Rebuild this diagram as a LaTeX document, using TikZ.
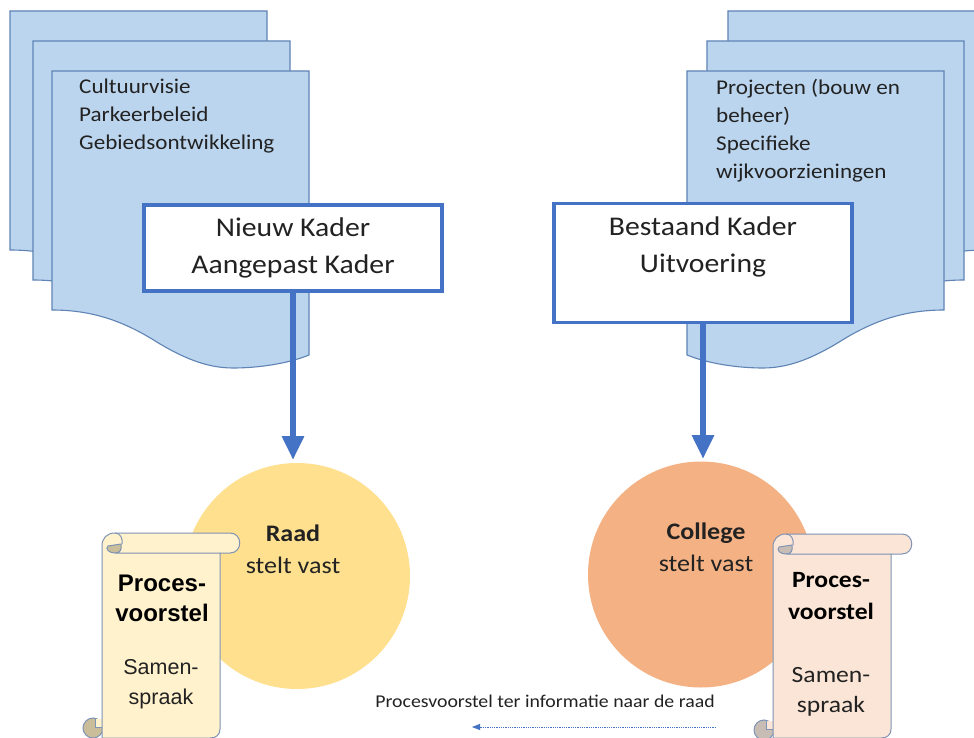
\documentclass[tikz,border=0pt]{standalone}
\usepackage{fontspec}
\usetikzlibrary{arrows.meta}
\setmainfont[FakeStretch=1.1]{Carlito}
\newfontfamily\arialf{Liberation Sans}
\definecolor{docfill}{HTML}{BBD5EE}
\definecolor{docline}{HTML}{5F84B4}
\definecolor{kader}{HTML}{4472C4}
\definecolor{raad}{HTML}{FFE08F}
\definecolor{coll}{HTML}{F4B183}
\definecolor{scrollA}{HTML}{FFF2CC}
\definecolor{scrollB}{HTML}{FBE5D6}
\definecolor{scrollline}{HTML}{7F93B5}
\definecolor{curlA}{HTML}{C9BD9A}
\definecolor{curlB}{HTML}{C8BDB5}
\definecolor{txt}{HTML}{222222}
\newcommand{\wavedoc}[1]{%
  \draw[docsheet,#1] (0,0) -- (257,0) -- (257,284)
    .. controls (235,293) and (205,297) .. (181,297)
    .. controls (155,297) and (130,287) .. (100,268)
    .. controls (70,250) and (40,239) .. (0,239) -- cycle;}
\tikzset{
  x=1pt,y=-1pt,
  docsheet/.style={draw=docline,fill=docfill,line width=1.1pt},
  kaderbox/.style={draw=kader,fill=white,line width=3.2pt,inner sep=0pt,text=txt,font=\fontsize{27}{37}\selectfont,align=center},
  doctext/.style={anchor=base west,inner sep=0pt,text=txt,font=\fontsize{21}{28}\selectfont,align=left},
  thickarrow/.style={draw=kader,line width=6.8pt,-{Triangle[length=24pt,width=21pt]}},
  circ/.style={circle,inner sep=0pt,minimum size=226pt},
  circtext/.style={inner sep=0pt,text=txt,align=center,font=\fontsize{23.7}{32}\selectfont},
  scrollsheet/.style={draw=scrollline,line width=1pt},
  scrolltext/.style={inner sep=0pt,text=black,align=center},
}
\begin{document}
\begin{tikzpicture}
\useasboundingbox (0,0) rectangle (974,738);
\fill[white] (0,0) rectangle (974,738);
\clip (0,0) rectangle (974,738);
% left documents
\begin{scope}[shift={(10,11)}]\wavedoc{}\end{scope}
\begin{scope}[shift={(33,41)}]\wavedoc{}\end{scope}
\begin{scope}[shift={(52,71)}]\wavedoc{}\end{scope}
\node[doctext] (ltxt) at (79,150) {Cultuurvisie\\Parkeerbeleid\\Gebiedsontwikkeling};
% right documents
\begin{scope}[shift={(985,11)},xscale=-1]\wavedoc{}\end{scope}
\begin{scope}[shift={(964,41)},xscale=-1]\wavedoc{}\end{scope}
\begin{scope}[shift={(944,71)},xscale=-1]\wavedoc{}\end{scope}
\node[doctext] (rtxt) at (716,178.5) {Projecten (bouw en\\beheer)\\Specifieke\\wijkvoorzieningen};
% circles
\node[circ,fill=raad] (raadc) at (297,576) {};
\node[circ,fill=coll] (collc) at (701,574.5) {};
\node[circtext] (raadt) at (293,549) {\textbf{Raad}\\stelt vast};
\node[circtext] (collt) at (706,547) {\textbf{College}\\stelt vast};
% kader boxes
\node[kaderbox,minimum width=298pt,minimum height=86pt,text depth=4pt] (nk) at (293,248) {Nieuw Kader\\Aangepast Kader};
\node[kaderbox,minimum width=298pt,minimum height=119pt] (bk) at (703,263) {Bestaand Kader\\Uitvoering\\\mbox{}};
% arrows
\coordinate (nkend) at (nk.south |- 0,460);
\coordinate (bkend) at (bk.south |- 0,459);
\draw[thickarrow] (nk.south) -- (nkend);
\draw[thickarrow] (bk.south) -- (bkend);
% left scroll
\draw[scrollsheet,fill=curlA] (93,728) circle[radius=10];
\fill[scrollA] (95,719) rectangle (103,727);
\draw[scrollsheet] (95,718.5) -- (95,727) -- (103,727);
\draw[scrollsheet,fill=scrollA] (102,546) .. controls (102,538) and (107,533) .. (115,533) -- (230,533)
  .. controls (243,533) and (243,553) .. (230,553) -- (220,553) -- (220,729) .. controls (220,735) and (216,738) .. (210,738) -- (102,738) -- cycle;
\draw[scrollsheet,fill=curlA] (115,553) -- (220,553) (115,553) .. controls (109,553) and (105,549) .. (108,546) -- (121,544) .. controls (122,550) and (120,553) .. (115,553);
\draw[scrollsheet] (115,533) .. controls (120,533) and (123,538) .. (122,544);
\node[scrolltext,font=\arialf\bfseries\fontsize{24}{30}\selectfont] (lp) at (162,598) {Proces-\\voorstel};
\node[scrolltext,font=\arialf\fontsize{21.5}{30}\selectfont,text=txt] (ls) at (161,684) {Samen-\\spraak};
% right scroll
\draw[scrollsheet,fill=curlB] (764,730) circle[radius=10];
\fill[scrollB] (766,721) rectangle (774,729);
\draw[scrollsheet] (766,720.5) -- (766,729) -- (774,729);
\draw[scrollsheet,fill=scrollB] (773,547) .. controls (773,539) and (778,534) .. (786,534) -- (902,534)
  .. controls (915,534) and (915,554) .. (902,554) -- (891,554) -- (891,729) .. controls (891,735) and (887,738) .. (881,738) -- (773,738) -- cycle;
\draw[scrollsheet,fill=curlB] (786,554) -- (891,554) (786,554) .. controls (780,554) and (776,550) .. (779,547) -- (792,545) .. controls (793,551) and (791,554) .. (786,554);
\draw[scrollsheet] (786,534) .. controls (791,534) and (794,539) .. (793,545);
\node[scrolltext,font=\bfseries\fontsize{23.3}{32}\selectfont] (rp) at (831,596) {Proces-\\voorstel};
\node[scrolltext,font=\fontsize{23.3}{30}\selectfont,text=txt] (rs) at (831,691.5) {Samen-\\spraak};
% bottom label and arrow
\node[inner sep=0pt,text=txt,font=\fontsize{18}{20}\selectfont] (info) at (545,701) {Procesvoorstel ter informatie naar de raad};
\coordinate (infoa) at (716,727);
\coordinate (infob) at (472,727);
\draw[kader,line width=0.8pt,densely dotted,-{Triangle[length=8pt,width=6pt]}] (infoa) -- (infob);
\end{tikzpicture}
\end{document}
